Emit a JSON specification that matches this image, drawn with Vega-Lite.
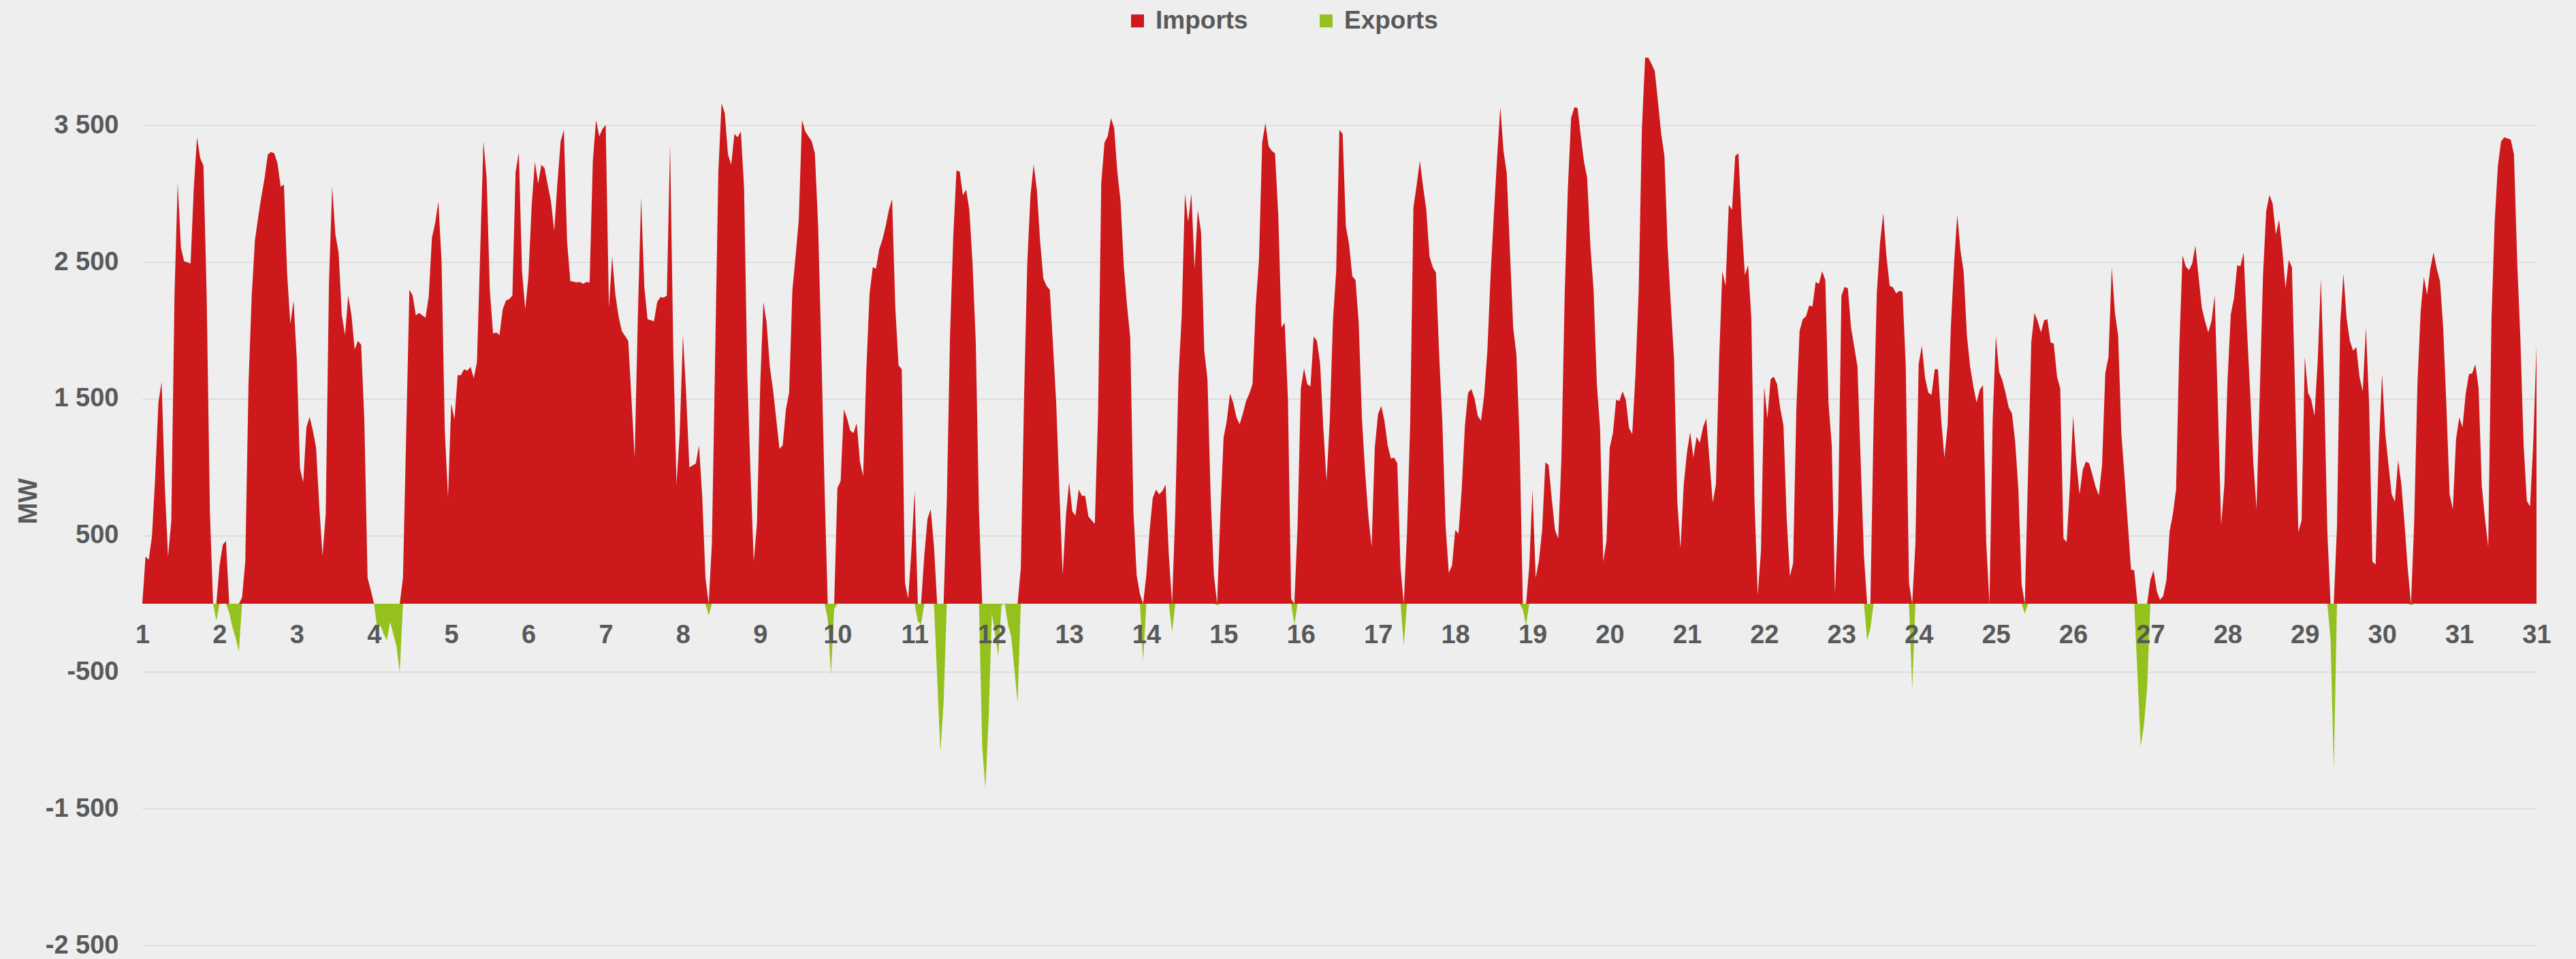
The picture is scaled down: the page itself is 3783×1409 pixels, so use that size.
{
"$schema":"https://vega.github.io/schema/vega-lite/v6.json",
"autosize":{"type":"none"},
"padding":{"left":209,"top":84,"right":58,"bottom":20},
"width":3516,"height":1305,
"background":"#eeeeee",
"config":{"view":{"stroke":null},"font":"Liberation Sans"},
"datasets":{
"imp":[{"h":0,"v":0},{"h":1,"v":345},{"h":2,"v":323},{"h":3,"v":495},{"h":4,"v":926},{"h":5,"v":1472},{"h":6,"v":1626},{"h":7,"v":854},{"h":8,"v":345},{"h":9,"v":603},{"h":10,"v":2255},{"h":11,"v":3080},{"h":12,"v":2606},{"h":13,"v":2506},{"h":14,"v":2500},{"h":15,"v":2488},{"h":16,"v":3044},{"h":17,"v":3414},{"h":18,"v":3260},{"h":19,"v":3206},{"h":20,"v":2255},{"h":21,"v":675},{"h":22,"v":0},{"h":23,"v":0},{"h":24,"v":280},{"h":25,"v":431},{"h":26,"v":460},{"h":27,"v":0},{"h":30,"v":0},{"h":31,"v":47},{"h":32,"v":309},{"h":33,"v":1608},{"h":34,"v":2255},{"h":35,"v":2660},{"h":36,"v":2829},{"h":37,"v":2980},{"h":38,"v":3116},{"h":39,"v":3288},{"h":40,"v":3306},{"h":41,"v":3296},{"h":42,"v":3224},{"h":43,"v":3052},{"h":44,"v":3069},{"h":45,"v":2416},{"h":46,"v":2046},{"h":47,"v":2219},{"h":48,"v":1788},{"h":49,"v":991},{"h":50,"v":890},{"h":51,"v":1292},{"h":52,"v":1368},{"h":53,"v":1267},{"h":54,"v":1142},{"h":55,"v":711},{"h":56,"v":352},{"h":57,"v":657},{"h":58,"v":2344},{"h":59,"v":3052},{"h":60,"v":2703},{"h":61,"v":2570},{"h":62,"v":2111},{"h":63,"v":1967},{"h":64,"v":2255},{"h":65,"v":2111},{"h":66,"v":1860},{"h":67,"v":1924},{"h":68,"v":1896},{"h":69,"v":1339},{"h":70,"v":190},{"h":71,"v":100},{"h":72,"v":0},{"h":80,"v":0},{"h":81,"v":190},{"h":83,"v":2298},{"h":84,"v":2255},{"h":85,"v":2111},{"h":86,"v":2129},{"h":88,"v":2093},{"h":89,"v":2247},{"h":90,"v":2678},{"h":91,"v":2786},{"h":92,"v":2944},{"h":93,"v":2499},{"h":94,"v":1267},{"h":95,"v":783},{"h":96,"v":1465},{"h":97,"v":1350},{"h":98,"v":1673},{"h":99,"v":1673},{"h":100,"v":1716},{"h":101,"v":1705},{"h":102,"v":1734},{"h":103,"v":1651},{"h":104,"v":1770},{"h":105,"v":2578},{"h":106,"v":3385},{"h":107,"v":3116},{"h":108,"v":2290},{"h":109,"v":1978},{"h":110,"v":1985},{"h":111,"v":1967},{"h":112,"v":2154},{"h":113,"v":2219},{"h":114,"v":2229},{"h":115,"v":2255},{"h":116,"v":3159},{"h":117,"v":3303},{"h":118,"v":2434},{"h":119,"v":2154},{"h":120,"v":2398},{"h":121,"v":2919},{"h":122,"v":3235},{"h":123,"v":3073},{"h":124,"v":3213},{"h":125,"v":3188},{"h":126,"v":3062},{"h":127,"v":2944},{"h":128,"v":2728},{"h":129,"v":3080},{"h":130,"v":3385},{"h":131,"v":3468},{"h":132,"v":2649},{"h":133,"v":2362},{"h":135,"v":2351},{"h":136,"v":2355},{"h":137,"v":2341},{"h":138,"v":2355},{"h":139,"v":2351},{"h":140,"v":3242},{"h":141,"v":3540},{"h":142,"v":3421},{"h":143,"v":3475},{"h":144,"v":3504},{"h":145,"v":2165},{"h":146,"v":2542},{"h":147,"v":2262},{"h":148,"v":2104},{"h":149,"v":1996},{"h":150,"v":1960},{"h":151,"v":1924},{"h":152,"v":1501},{"h":153,"v":1070},{"h":154,"v":2111},{"h":155,"v":2973},{"h":156,"v":2319},{"h":157,"v":2082},{"h":159,"v":2068},{"h":160,"v":2208},{"h":161,"v":2244},{"h":162,"v":2240},{"h":163,"v":2255},{"h":164,"v":3360},{"h":165,"v":1860},{"h":166,"v":872},{"h":167,"v":1249},{"h":168,"v":1967},{"h":169,"v":1537},{"h":170,"v":998},{"h":172,"v":1027},{"h":173,"v":1160},{"h":174,"v":783},{"h":175,"v":190},{"h":176,"v":0},{"h":177,"v":442},{"h":179,"v":3159},{"h":180,"v":3662},{"h":181,"v":3590},{"h":182,"v":3288},{"h":183,"v":3213},{"h":184,"v":3439},{"h":185,"v":3414},{"h":186,"v":3457},{"h":187,"v":3044},{"h":188,"v":1680},{"h":189,"v":962},{"h":190,"v":309},{"h":191,"v":585},{"h":192,"v":1590},{"h":193,"v":2208},{"h":194,"v":2057},{"h":195,"v":1734},{"h":196,"v":1565},{"h":197,"v":1350},{"h":198,"v":1134},{"h":199,"v":1160},{"h":200,"v":1422},{"h":201,"v":1544},{"h":202,"v":2290},{"h":203,"v":2542},{"h":204,"v":2811},{"h":205,"v":3540},{"h":206,"v":3457},{"h":207,"v":3421},{"h":208,"v":3385},{"h":209,"v":3296},{"h":210,"v":2775},{"h":211,"v":1860},{"h":212,"v":854},{"h":213,"v":0},{"h":215,"v":0},{"h":216,"v":847},{"h":217,"v":898},{"h":218,"v":1422},{"h":219,"v":1357},{"h":220,"v":1267},{"h":221,"v":1249},{"h":222,"v":1321},{"h":223,"v":1041},{"h":224,"v":933},{"h":225,"v":1716},{"h":226,"v":2272},{"h":227,"v":2463},{"h":228,"v":2452},{"h":229,"v":2596},{"h":230,"v":2667},{"h":231,"v":2764},{"h":232,"v":2883},{"h":233,"v":2962},{"h":234,"v":2165},{"h":235,"v":1745},{"h":236,"v":1716},{"h":237,"v":154},{"h":238,"v":36},{"h":239,"v":388},{"h":240,"v":826},{"h":241,"v":0},{"h":242,"v":0},{"h":243,"v":352},{"h":244,"v":621},{"h":245,"v":693},{"h":246,"v":424},{"h":247,"v":0},{"h":249,"v":0},{"h":250,"v":747},{"h":251,"v":1967},{"h":252,"v":2685},{"h":253,"v":3170},{"h":254,"v":3163},{"h":255,"v":2990},{"h":256,"v":3030},{"h":257,"v":2883},{"h":258,"v":2488},{"h":259,"v":1913},{"h":260,"v":675},{"h":261,"v":0},{"h":272,"v":0},{"h":273,"v":262},{"h":274,"v":1501},{"h":275,"v":2488},{"h":276,"v":2990},{"h":277,"v":3217},{"h":278,"v":3026},{"h":279,"v":2649},{"h":280,"v":2380},{"h":281,"v":2326},{"h":282,"v":2298},{"h":283,"v":1896},{"h":284,"v":1465},{"h":285,"v":819},{"h":286,"v":208},{"h":287,"v":639},{"h":288,"v":890},{"h":289,"v":675},{"h":290,"v":646},{"h":291,"v":836},{"h":292,"v":790},{"h":293,"v":790},{"h":294,"v":639},{"h":295,"v":610},{"h":296,"v":585},{"h":297,"v":1393},{"h":298,"v":3080},{"h":299,"v":3375},{"h":300,"v":3421},{"h":301,"v":3554},{"h":302,"v":3482},{"h":303,"v":3159},{"h":304,"v":2944},{"h":305,"v":2470},{"h":306,"v":2183},{"h":307,"v":1949},{"h":308,"v":675},{"h":309,"v":208},{"h":310,"v":72},{"h":311,"v":0},{"h":312,"v":208},{"h":313,"v":531},{"h":314,"v":775},{"h":315,"v":836},{"h":316,"v":801},{"h":317,"v":826},{"h":318,"v":872},{"h":319,"v":352},{"h":320,"v":0},{"h":321,"v":675},{"h":322,"v":1662},{"h":323,"v":2111},{"h":324,"v":3001},{"h":325,"v":2793},{"h":326,"v":3001},{"h":327,"v":2452},{"h":328,"v":2883},{"h":329,"v":2721},{"h":330,"v":1852},{"h":331,"v":1644},{"h":332,"v":783},{"h":333,"v":208},{"h":334,"v":0},{"h":335,"v":657},{"h":336,"v":1213},{"h":337,"v":1339},{"h":338,"v":1537},{"h":339,"v":1472},{"h":340,"v":1364},{"h":341,"v":1314},{"h":342,"v":1393},{"h":343,"v":1483},{"h":344,"v":1537},{"h":345,"v":1608},{"h":346,"v":2183},{"h":347,"v":2513},{"h":348,"v":3375},{"h":349,"v":3518},{"h":350,"v":3349},{"h":351,"v":3314},{"h":352,"v":3296},{"h":353,"v":2847},{"h":354,"v":2021},{"h":355,"v":2057},{"h":356,"v":1501},{"h":357,"v":36},{"h":358,"v":0},{"h":359,"v":567},{"h":360,"v":1572},{"h":361,"v":1723},{"h":362,"v":1608},{"h":363,"v":1590},{"h":364,"v":1957},{"h":365,"v":1924},{"h":366,"v":1759},{"h":367,"v":1285},{"h":368,"v":898},{"h":369,"v":1339},{"h":370,"v":2075},{"h":371,"v":2434},{"h":372,"v":3468},{"h":373,"v":3439},{"h":374,"v":2764},{"h":375,"v":2631},{"h":376,"v":2398},{"h":377,"v":2369},{"h":378,"v":2057},{"h":379,"v":1357},{"h":380,"v":962},{"h":381,"v":639},{"h":382,"v":416},{"h":383,"v":1142},{"h":384,"v":1386},{"h":385,"v":1447},{"h":386,"v":1339},{"h":387,"v":1160},{"h":388,"v":1063},{"h":389,"v":1070},{"h":390,"v":1027},{"h":391,"v":262},{"h":392,"v":0},{"h":393,"v":513},{"h":394,"v":1321},{"h":395,"v":2901},{"h":396,"v":3062},{"h":397,"v":3242},{"h":398,"v":3052},{"h":399,"v":2883},{"h":400,"v":2542},{"h":401,"v":2463},{"h":402,"v":2423},{"h":403,"v":1824},{"h":404,"v":1321},{"h":405,"v":567},{"h":406,"v":226},{"h":407,"v":280},{"h":408,"v":539},{"h":409,"v":513},{"h":410,"v":836},{"h":411,"v":1303},{"h":412,"v":1544},{"h":413,"v":1572},{"h":414,"v":1501},{"h":415,"v":1375},{"h":416,"v":1339},{"h":417,"v":1529},{"h":418,"v":1860},{"h":419,"v":2416},{"h":420,"v":2847},{"h":421,"v":3260},{"h":422,"v":3637},{"h":423,"v":3314},{"h":424,"v":3152},{"h":425,"v":2578},{"h":426,"v":2021},{"h":427,"v":1824},{"h":428,"v":1195},{"h":429,"v":0},{"h":430,"v":0},{"h":431,"v":273},{"h":432,"v":836},{"h":433,"v":190},{"h":434,"v":316},{"h":435,"v":539},{"h":436,"v":1034},{"h":437,"v":1016},{"h":438,"v":765},{"h":439,"v":539},{"h":440,"v":477},{"h":441,"v":1070},{"h":442,"v":2255},{"h":443,"v":3044},{"h":444,"v":3554},{"h":445,"v":3633},{"h":446,"v":3629},{"h":447,"v":3425},{"h":448,"v":3235},{"h":449,"v":3116},{"h":450,"v":2614},{"h":451,"v":2290},{"h":452,"v":1608},{"h":453,"v":1285},{"h":454,"v":309},{"h":455,"v":460},{"h":456,"v":1142},{"h":457,"v":1249},{"h":458,"v":1493},{"h":459,"v":1483},{"h":460,"v":1554},{"h":461,"v":1493},{"h":462,"v":1285},{"h":463,"v":1242},{"h":464,"v":1680},{"h":465,"v":2290},{"h":466,"v":3475},{"h":467,"v":3996},{"h":468,"v":3996},{"h":469,"v":3950},{"h":470,"v":3899},{"h":471,"v":3673},{"h":472,"v":3439},{"h":473,"v":3278},{"h":474,"v":2614},{"h":475,"v":2183},{"h":476,"v":1788},{"h":477,"v":747},{"h":478,"v":406},{"h":479,"v":872},{"h":480,"v":1106},{"h":481,"v":1256},{"h":482,"v":1070},{"h":483,"v":1221},{"h":484,"v":1178},{"h":485,"v":1292},{"h":486,"v":1357},{"h":487,"v":1052},{"h":488,"v":740},{"h":489,"v":872},{"h":490,"v":1788},{"h":491,"v":2434},{"h":492,"v":2326},{"h":493,"v":2919},{"h":494,"v":2883},{"h":495,"v":3278},{"h":496,"v":3296},{"h":497,"v":2793},{"h":498,"v":2405},{"h":499,"v":2477},{"h":500,"v":2093},{"h":501,"v":747},{"h":502,"v":65},{"h":503,"v":388},{"h":504,"v":1590},{"h":505,"v":1357},{"h":506,"v":1644},{"h":507,"v":1662},{"h":508,"v":1608},{"h":509,"v":1429},{"h":510,"v":1303},{"h":511,"v":621},{"h":512,"v":201},{"h":513,"v":298},{"h":514,"v":1429},{"h":515,"v":1996},{"h":516,"v":2082},{"h":517,"v":2104},{"h":518,"v":2183},{"h":519,"v":2176},{"h":520,"v":2355},{"h":521,"v":2341},{"h":522,"v":2434},{"h":523,"v":2369},{"h":524,"v":1465},{"h":525,"v":1160},{"h":526,"v":72},{"h":527,"v":675},{"h":528,"v":2255},{"h":529,"v":2319},{"h":530,"v":2308},{"h":531,"v":2021},{"h":532,"v":1878},{"h":533,"v":1734},{"h":534,"v":1034},{"h":535,"v":352},{"h":536,"v":0},{"h":537,"v":0},{"h":538,"v":1321},{"h":539,"v":2272},{"h":540,"v":2642},{"h":541,"v":2858},{"h":542,"v":2542},{"h":543,"v":2326},{"h":544,"v":2316},{"h":545,"v":2272},{"h":546,"v":2290},{"h":547,"v":2283},{"h":548,"v":1734},{"h":549,"v":154},{"h":550,"v":0},{"h":551,"v":442},{"h":552,"v":1752},{"h":553,"v":1888},{"h":554,"v":1651},{"h":555,"v":1544},{"h":556,"v":1529},{"h":557,"v":1716},{"h":558,"v":1716},{"h":559,"v":1350},{"h":560,"v":1070},{"h":561,"v":1303},{"h":562,"v":2021},{"h":563,"v":2488},{"h":564,"v":2847},{"h":565,"v":2585},{"h":566,"v":2427},{"h":567,"v":1960},{"h":568,"v":1734},{"h":569,"v":1590},{"h":570,"v":1472},{"h":571,"v":1565},{"h":572,"v":1601},{"h":573,"v":452},{"h":574,"v":0},{"h":575,"v":1339},{"h":576,"v":1960},{"h":577,"v":1698},{"h":578,"v":1637},{"h":579,"v":1544},{"h":580,"v":1436},{"h":581,"v":1393},{"h":582,"v":1185},{"h":583,"v":836},{"h":584,"v":144},{"h":585,"v":0},{"h":586,"v":962},{"h":587,"v":1913},{"h":588,"v":2129},{"h":589,"v":2068},{"h":590,"v":1985},{"h":591,"v":2075},{"h":592,"v":2082},{"h":593,"v":1913},{"h":594,"v":1903},{"h":595,"v":1662},{"h":596,"v":1576},{"h":597,"v":477},{"h":598,"v":452},{"h":599,"v":854},{"h":600,"v":1375},{"h":601,"v":1041},{"h":602,"v":801},{"h":603,"v":980},{"h":604,"v":1041},{"h":605,"v":1027},{"h":606,"v":944},{"h":607,"v":854},{"h":608,"v":793},{"h":609,"v":1016},{"h":610,"v":1687},{"h":611,"v":1806},{"h":612,"v":2463},{"h":613,"v":2129},{"h":614,"v":1960},{"h":615,"v":1242},{"h":616,"v":926},{"h":617,"v":585},{"h":618,"v":251},{"h":619,"v":244},{"h":620,"v":0},{"h":623,"v":0},{"h":624,"v":172},{"h":625,"v":244},{"h":626,"v":93},{"h":627,"v":29},{"h":628,"v":57},{"h":629,"v":172},{"h":630,"v":531},{"h":631,"v":657},{"h":632,"v":836},{"h":633,"v":1878},{"h":634,"v":2549},{"h":635,"v":2470},{"h":636,"v":2441},{"h":637,"v":2488},{"h":638,"v":2621},{"h":639,"v":2391},{"h":640,"v":2165},{"h":641,"v":2068},{"h":642,"v":1985},{"h":643,"v":2068},{"h":644,"v":2255},{"h":645,"v":1447},{"h":646,"v":574},{"h":647,"v":872},{"h":648,"v":1644},{"h":649,"v":2118},{"h":650,"v":2237},{"h":651,"v":2477},{"h":652,"v":2470},{"h":653,"v":2570},{"h":654,"v":2021},{"h":655,"v":1554},{"h":656,"v":1034},{"h":657,"v":693},{"h":658,"v":1537},{"h":659,"v":2398},{"h":660,"v":2872},{"h":661,"v":2990},{"h":662,"v":2929},{"h":663,"v":2703},{"h":664,"v":2811},{"h":665,"v":2596},{"h":666,"v":2308},{"h":667,"v":2517},{"h":668,"v":2463},{"h":669,"v":1530},{"h":670,"v":524},{"h":671,"v":610},{"h":672,"v":1806},{"h":673,"v":1544},{"h":674,"v":1493},{"h":675,"v":1375},{"h":676,"v":1770},{"h":677,"v":2380},{"h":678,"v":1608},{"h":679,"v":531},{"h":680,"v":0},{"h":681,"v":0},{"h":682,"v":567},{"h":683,"v":2046},{"h":684,"v":2416},{"h":685,"v":2086},{"h":686,"v":1924},{"h":687,"v":1852},{"h":688,"v":1878},{"h":689,"v":1662},{"h":690,"v":1554},{"h":691,"v":2021},{"h":692,"v":1447},{"h":693,"v":309},{"h":694,"v":287},{"h":695,"v":1142},{"h":696,"v":1680},{"h":697,"v":1249},{"h":698,"v":1016},{"h":699,"v":801},{"h":700,"v":747},{"h":701,"v":1052},{"h":702,"v":872},{"h":703,"v":585},{"h":704,"v":251},{"h":705,"v":0},{"h":706,"v":603},{"h":707,"v":1608},{"h":708,"v":2140},{"h":709,"v":2391},{"h":710,"v":2262},{"h":711,"v":2452},{"h":712,"v":2570},{"h":713,"v":2452},{"h":714,"v":2362},{"h":715,"v":2021},{"h":716,"v":1447},{"h":717,"v":801},{"h":718,"v":693},{"h":719,"v":1206},{"h":720,"v":1364},{"h":721,"v":1292},{"h":722,"v":1537},{"h":723,"v":1680},{"h":724,"v":1687},{"h":725,"v":1752},{"h":726,"v":1580},{"h":727,"v":862},{"h":728,"v":621},{"h":729,"v":416},{"h":730,"v":2075},{"h":731,"v":2793},{"h":732,"v":3206},{"h":733,"v":3385},{"h":734,"v":3414},{"h":736,"v":3396},{"h":737,"v":3288},{"h":738,"v":2506},{"h":739,"v":1931},{"h":740,"v":1160},{"h":741,"v":754},{"h":742,"v":711},{"h":743,"v":1178},{"h":744,"v":1888}],
"exp":[{"h":21,"v":0},{"h":22,"v":0},{"h":23,"v":-126},{"h":24,"v":0},{"h":26,"v":0},{"h":27,"v":-65},{"h":28,"v":-169},{"h":29,"v":-250},{"h":30,"v":-348},{"h":31,"v":0},{"h":72,"v":0},{"h":73,"v":-180},{"h":74,"v":-158},{"h":75,"v":-223},{"h":76,"v":-269},{"h":77,"v":-133},{"h":78,"v":-223},{"h":79,"v":-312},{"h":80,"v":-503},{"h":81,"v":0},{"h":175,"v":0},{"h":176,"v":-86},{"h":177,"v":0},{"h":212,"v":0},{"h":213,"v":-110},{"h":214,"v":-520},{"h":215,"v":-40},{"h":216,"v":0},{"h":240,"v":0},{"h":241,"v":-130},{"h":242,"v":-150},{"h":243,"v":0},{"h":246,"v":0},{"h":247,"v":-540},{"h":248,"v":-1084},{"h":249,"v":-725},{"h":250,"v":0},{"h":260,"v":0},{"h":261,"v":-1048},{"h":262,"v":-1353},{"h":263,"v":-833},{"h":264,"v":-72},{"h":265,"v":-223},{"h":266,"v":-384},{"h":267,"v":-10},{"h":268,"v":0},{"h":269,"v":-151},{"h":270,"v":-240},{"h":271,"v":-480},{"h":272,"v":-725},{"h":273,"v":0},{"h":310,"v":0},{"h":311,"v":-420},{"h":312,"v":0},{"h":319,"v":0},{"h":320,"v":-205},{"h":321,"v":0},{"h":333,"v":0},{"h":334,"v":-11},{"h":335,"v":0},{"h":357,"v":0},{"h":358,"v":-151},{"h":359,"v":0},{"h":391,"v":0},{"h":392,"v":-302},{"h":393,"v":0},{"h":428,"v":0},{"h":429,"v":-43},{"h":430,"v":-158},{"h":431,"v":0},{"h":535,"v":0},{"h":536,"v":-266},{"h":537,"v":-180},{"h":538,"v":0},{"h":549,"v":0},{"h":550,"v":-625},{"h":551,"v":0},{"h":584,"v":0},{"h":585,"v":-72},{"h":586,"v":0},{"h":619,"v":0},{"h":620,"v":-520},{"h":621,"v":-1048},{"h":622,"v":-887},{"h":623,"v":-617},{"h":624,"v":0},{"h":679,"v":0},{"h":680,"v":-258},{"h":681,"v":-1210},{"h":682,"v":0},{"h":704,"v":0},{"h":705,"v":-11},{"h":706,"v":0}]
},
"encoding":{
"x":{"field":"h","type":"quantitative","scale":{"domain":[0,744],"nice":false,"zero":false},
"axis":{"orient":"bottom","offset":-502,"values":[0,24,48,72,96,120,144,168,192,216,240,264,288,312,336,360,384,408,432,456,480,504,528,552,576,600,624,648,672,696,720,744],
"labelExpr":"datum.value >= 744 ? '31' : '' + (datum.value / 24 + 1)","title":null,"grid":false,"domain":false,"ticks":false,"labelFlush":false,"labelOverlap":false,"labelPadding":27,"labelFontSize":38,"labelFontWeight":"bold","labelColor":"#595959","labelFont":"Liberation Sans","zindex":1}},
"y":{"field":"v","type":"quantitative","scale":{"domain":[-2500,4000],"nice":false,"zero":true},
"axis":{"values":[-2500,-1500,-500,500,1500,2500,3500],"labelExpr":"(datum.value < 0 ? '-' : '') + replace(format(abs(datum.value), ','), ',', ' ')","title":"MW","titleX":-156,"titleY":652,"titleAngle":-90,"titleAlign":"center","titleBaseline":"alphabetic","titleFontSize":38,"titleFontWeight":"bold","titleColor":"#595959","titleFont":"Liberation Sans","grid":true,"gridColor":"#d8d8d8","gridWidth":1.5,"domain":false,"ticks":false,"labelPadding":35,"labelFontSize":38,"labelFontWeight":"bold","labelColor":"#595959","labelFont":"Liberation Sans","zindex":0}}
},
"layer":[
{"data":{"name":"imp"},"mark":{"type":"area","opacity":1,"interpolate":"linear"},
"encoding":{"color":{"datum":"Imports","type":"nominal","scale":{"domain":["Imports","Exports"],"range":["#cd191c","#95c11f"]},
"legend":{"orient":"none","legendX":1443,"legendY":-72,"direction":"horizontal","title":null,"symbolType":"square","symbolSize":361,"symbolStrokeWidth":0,"symbolOpacity":1,"labelFontSize":37,"labelFontWeight":"bold","labelColor":"#595959","labelFont":"Liberation Sans","columnPadding":96,"padding":0,"labelOffset":8}}}},
{"data":{"name":"exp"},"mark":{"type":"area","opacity":1,"interpolate":"linear"},
"encoding":{"color":{"datum":"Exports","type":"nominal"}}}
]
}
